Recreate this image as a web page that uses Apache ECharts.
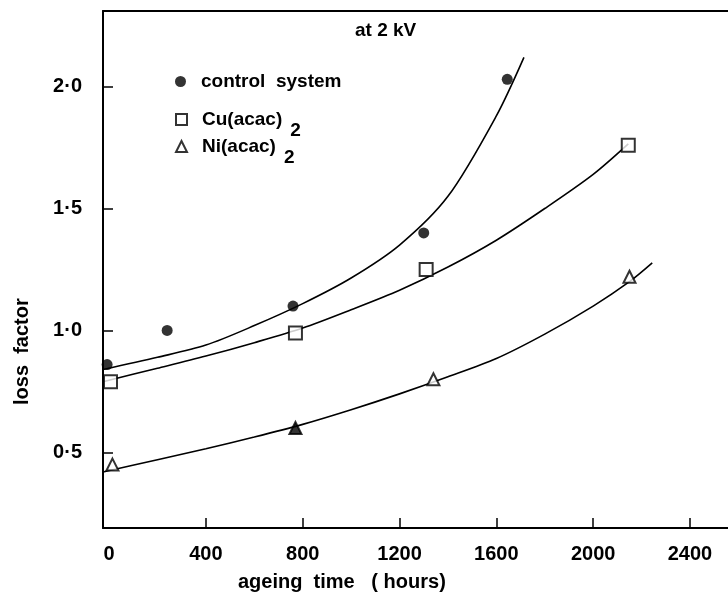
<!DOCTYPE html>
<html>
<head>
<meta charset="utf-8">
<script src="https://cdn.jsdelivr.net/npm/echarts@6/dist/echarts.min.js"></script>
<style>
  html, body { margin: 0; padding: 0; background: #fff; }
  #chart { width: 728px; height: 601px; }
</style>
</head>
<body>
<div id="chart"></div>
<script>
// tick labels
const xTicks = [0, 400, 800, 1200, 1600, 2000, 2400];
const yTicks = [0.5, 1.0, 1.5, 2.0];

// measured points [hours, loss factor]
const controlPts = [[-8, 0.86], [240, 1.0], [760, 1.10], [1300, 1.40], [1645, 2.03]];
const cuPts = [[6, 0.79], [770, 0.99], [1310, 1.25], [2145, 1.76]];
const niPts = [[14, 0.45], [770, 0.60], [1340, 0.80], [2150, 1.22]];

// hand-drawn fitted curves (they start on the y axis)
const controlCurve = [[-25, 0.84], [200, 0.89], [400, 0.94], [600, 1.02], [800, 1.11], [1000, 1.215], [1200, 1.35], [1400, 1.55], [1600, 1.88], [1714, 2.12]];
const cuCurve = [[-25, 0.79], [200, 0.845], [400, 0.895], [600, 0.95], [800, 1.01], [1000, 1.085], [1200, 1.165], [1400, 1.26], [1600, 1.37], [1800, 1.5], [2000, 1.64], [2145, 1.765]];
const niCurve = [[-25, 0.42], [200, 0.47], [400, 0.515], [600, 0.563], [800, 0.615], [1000, 0.675], [1200, 0.74], [1400, 0.81], [1600, 0.885], [1800, 0.985], [2000, 1.1], [2150, 1.2], [2244, 1.277]];

const font = 'Liberation Sans';
const chart = echarts.init(document.getElementById('chart'));

const curve = (data) => ({
    type: 'line',
    data: data,
    smooth: 0.3,
    showSymbol: false,
    silent: true,
    lineStyle: { color: '#000', width: 1.6 },
    z: 1
});

// one legend per row so the rows can sit where they do in the figure
const legendRow = (name, top) => ({
    orient: 'vertical',
    left: 170,
    top: top,
    itemWidth: 11,
    itemHeight: 11,
    data: [name],
    formatter: (n) => n === 'control system'
        ? '{a|control  system}'
        : '{a|' + n.slice(0, -1) + '}{s|2}',
    textStyle: {
        fontFamily: font,
        color: '#000',
        rich: {
            a: { fontFamily: font, fontSize: 19, fontWeight: 'bold', color: '#000', padding: [0, 0, 0, 10] },
            s: { fontFamily: font, fontSize: 19, fontWeight: 'bold', color: '#000', padding: [22, 0, 0, 8] }
        }
    }
});

chart.setOption({
    animation: false,
    title: {
        text: 'at 2 kV',
        left: 350,
        top: 16,
        textStyle: { fontFamily: font, fontSize: 19, fontWeight: 'bold', color: '#000' }
    },
    legend: [
        legendRow('control system', 67),
        legendRow('Cu(acac)2', 105),
        legendRow('Ni(acac)2', 132)
    ],
    grid: { left: 103, top: 11, right: 0, bottom: 73 },
    xAxis: [{
        type: 'value',
        min: -25,
        max: 2557,
        axisLine: { onZero: false, lineStyle: { color: '#000', width: 2 } },
        axisTick: { inside: true, length: 10, lineStyle: { color: '#000', width: 1.5 }, customValues: xTicks.slice(1) },
        axisLabel: {
            customValues: xTicks,
            margin: 16,
            fontFamily: font,
            fontSize: 20,
            fontWeight: 'bold',
            color: '#000',
            formatter: (v) => String(v)
        },
        splitLine: { show: false }
    }, {
        type: 'value',
        position: 'top',
        min: -25,
        max: 2557,
        axisLine: { show: true, onZero: false, lineStyle: { color: '#000', width: 2 } },
        axisTick: { show: false },
        axisLabel: { show: false },
        splitLine: { show: false }
    }],
    yAxis: {
        type: 'value',
        min: 0.19,
        max: 2.31,
        axisLine: { show: true, onZero: false, lineStyle: { color: '#000', width: 2 } },
        axisTick: { inside: true, length: 10, lineStyle: { color: '#000', width: 1.5 }, customValues: yTicks },
        axisLabel: {
            customValues: yTicks,
            margin: 21,
            fontFamily: font,
            fontSize: 20,
            fontWeight: 'bold',
            color: '#000',
            formatter: (v) => v.toFixed(1).replace('.', '·')
        },
        splitLine: { show: false }
    },
    graphic: [{
        type: 'text',
        left: 238,
        top: 572,
        style: { text: 'ageing  time   ( hours)', font: 'bold 20px "Liberation Sans"', fill: '#000' }
    }, {
        type: 'text',
        x: 12,
        y: 405,
        rotation: Math.PI / 2,
        style: { text: 'loss  factor', font: 'bold 20px "Liberation Sans"', fill: '#000' }
    }],
    series: [
        curve(controlCurve),
        curve(cuCurve),
        curve(niCurve),
        {
            name: 'control system',
            type: 'scatter',
            data: controlPts,
            symbol: 'circle',
            symbolSize: 11,
            itemStyle: { color: '#000' },
            z: 3
        },
        {
            name: 'Cu(acac)2',
            type: 'scatter',
            data: cuPts,
            symbol: 'rect',
            symbolSize: 13,
            itemStyle: { color: '#fff', borderColor: '#000', borderWidth: 2 },
            z: 3
        },
        {
            name: 'Ni(acac)2',
            type: 'scatter',
            data: niPts.map((p, i) => i === 1 ? { value: p, itemStyle: { color: '#000' } } : p),
            symbol: 'triangle',
            symbolSize: 12,
            itemStyle: { color: '#fff', borderColor: '#000', borderWidth: 2 },
            z: 3
        }
    ]
});
</script>
</body>
</html>
